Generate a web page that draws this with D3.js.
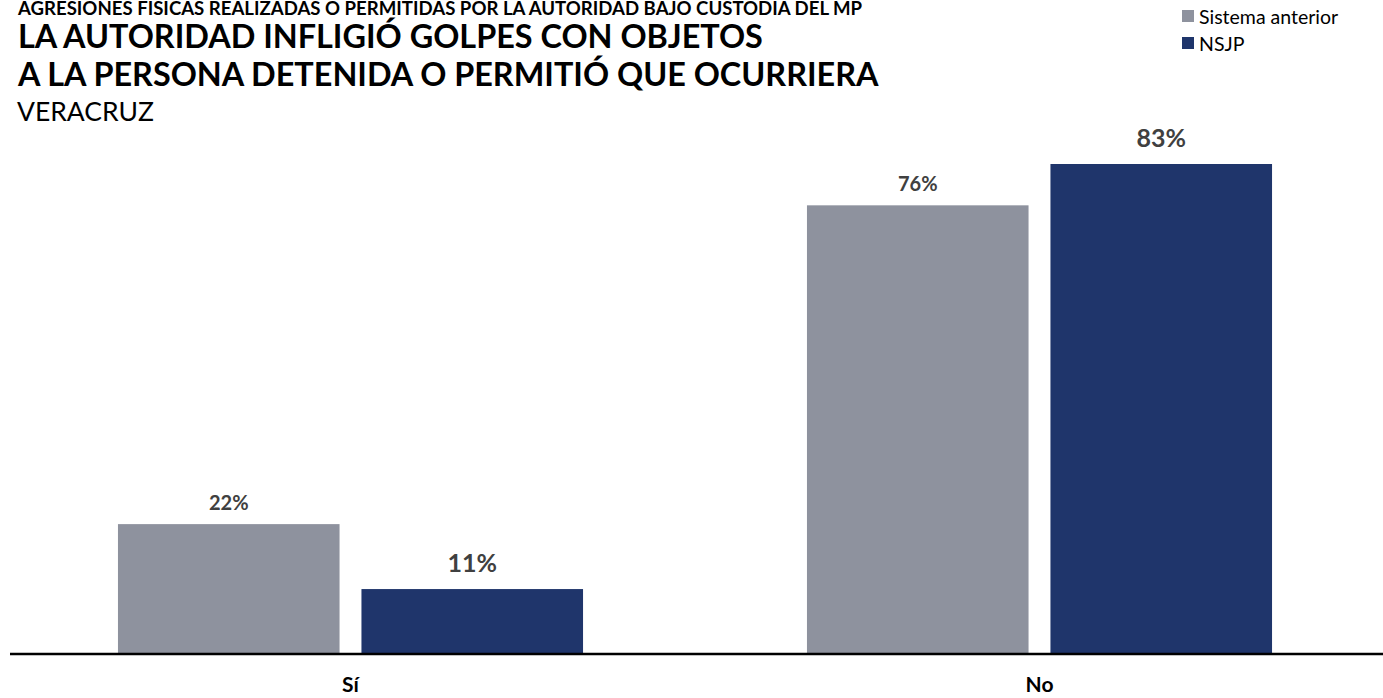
<!DOCTYPE html>
<html>
<head>
<meta charset="utf-8">
<script src="https://cdn.jsdelivr.net/npm/d3@7"></script>
<style>
  body { margin: 0; background: #fff; }
  svg text { font-family: Lato, "Open Sans", sans-serif; }
</style>
</head>
<body>
<svg id="chart"></svg>
<script>
// data
const categories = ['Sí', 'No'];
const seriesNames = ['Sistema anterior', 'NSJP'];
const sistemaAnterior = [22, 76];
const nsjp = [11, 83];

const width = 1383, height = 698;
const colors = ['#8e929e', '#1f356b'];

const svg = d3.select('#chart')
    .attr('width', width)
    .attr('height', height);

// titles
svg.append('text').attr('x', 18).attr('y', 15)
    .attr('font-size', 18.6).attr('font-weight', 700).attr('fill', '#000')
    .text('AGRESIONES FÍSICAS REALIZADAS O PERMITIDAS POR LA AUTORIDAD BAJO CUSTODIA DEL MP');
svg.append('text').attr('x', 18).attr('y', 48)
    .attr('font-size', 32.4).attr('font-weight', 700).attr('fill', '#000')
    .text('LA AUTORIDAD INFLIGIÓ GOLPES CON OBJETOS');
svg.append('text').attr('x', 18).attr('y', 86)
    .attr('font-size', 32.4).attr('font-weight', 700).attr('fill', '#000')
    .text('A LA PERSONA DETENIDA O PERMITIÓ QUE OCURRIERA');
svg.append('text').attr('x', 17).attr('y', 121)
    .attr('font-size', 26.5).attr('fill', '#000')
    .text('VERACRUZ');

// legend
const legend = svg.append('g').attr('transform', 'translate(1182,10)');
seriesNames.forEach((name, i) => {
    legend.append('rect').attr('x', 0).attr('y', i * 27)
        .attr('width', 12).attr('height', 12).attr('fill', colors[i]);
    legend.append('text').attr('x', 17).attr('y', i * 27 + 14)
        .attr('font-size', 19.5).attr('fill', '#000').text(name);
});

const baseline = 654;

const x0 = d3.scaleBand()
    .domain(categories)
    .range([6, 1384])
    .paddingInner(0.325)
    .paddingOuter(0.1625);

const x1 = d3.scaleBand()
    .domain(seriesNames)
    .range([0, x0.bandwidth()])
    .paddingInner(0.09);

const y = d3.scaleLinear()
    .domain([0, 83])
    .range([baseline, 164]);

const rows = categories.map((c, i) => ({
    category: c,
    values: [sistemaAnterior[i], nsjp[i]]
}));

const groups = svg.selectAll('g.cat')
    .data(rows)
    .enter()
    .append('g')
    .attr('class', 'cat')
    .attr('transform', d => `translate(${x0(d.category)},0)`);

groups.selectAll('rect')
    .data(d => d.values.map((v, i) => ({ series: seriesNames[i], value: v, i: i })))
    .enter()
    .append('rect')
    .attr('x', d => x1(d.series))
    .attr('y', d => y(d.value))
    .attr('width', x1.bandwidth())
    .attr('height', d => y(0) - y(d.value))
    .attr('fill', d => colors[d.i]);

groups.selectAll('text.val')
    .data(d => d.values.map((v, i) => ({ series: seriesNames[i], value: v, i: i })))
    .enter()
    .append('text')
    .attr('class', 'val')
    .attr('x', d => x1(d.series) + x1.bandwidth() / 2)
    .attr('y', d => y(d.value) - (d.i === 0 ? 14 : 17))
    .attr('text-anchor', 'middle')
    .attr('font-size', d => d.i === 0 ? 20 : 25)
    .attr('font-weight', 700)
    .attr('fill', '#404040')
    .text(d => d.value + '%');

// baseline axis
const xAxis = d3.axisBottom(x0).tickSize(0);
const axisG = svg.append('g')
    .attr('transform', `translate(0,${baseline})`)
    .call(xAxis);
axisG.select('.domain').remove();
axisG.append('line')
    .attr('x1', 10).attr('x2', width)
    .attr('stroke', '#000').attr('stroke-width', 2.5);
axisG.selectAll('.tick text')
    .attr('y', 38)
    .attr('dy', 0)
    .attr('font-family', 'Lato, sans-serif')
    .attr('font-size', 21)
    .attr('font-weight', 700)
    .attr('fill', '#000');
</script>
</body>
</html>
